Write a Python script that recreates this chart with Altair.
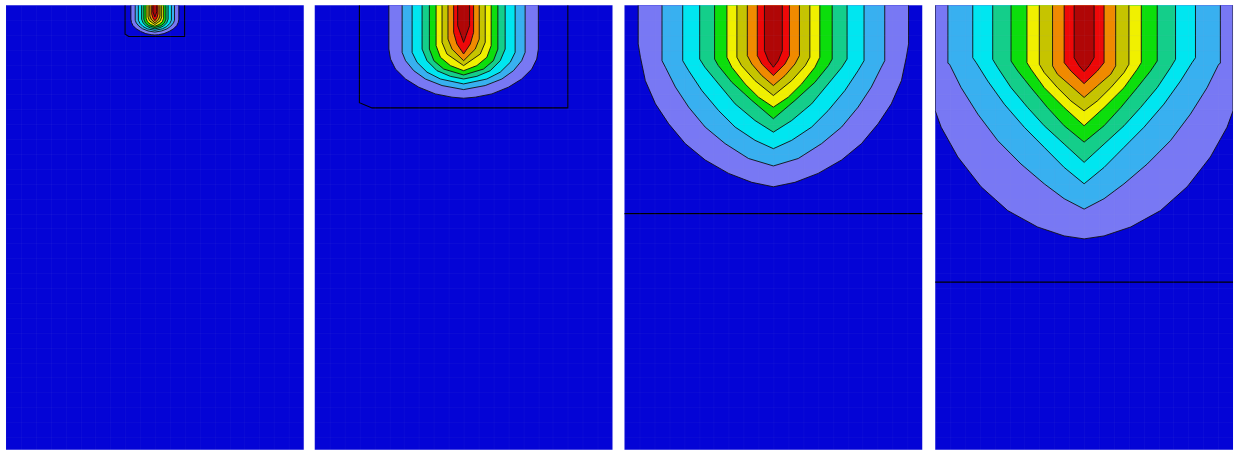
import altair as alt
import pandas as pd

# Colour of the untouched material and of the ten contour bands, outermost band first
BACKGROUND_BLUE = "#0404D6"
LEVEL_COLORS = ["#7878F4", "#38B0F0", "#00E6F0", "#14CE8A", "#0CDE0C",
                "#F0F000", "#C6C400", "#F08A00", "#EE0808", "#B00606"]
LEVELS = list(range(1, 11))

# Contour boundaries per panel: for each band, (depth, half-width) pairs
# running from the top surface down to the tip on the centre line.
P1_BOUNDS = [
    [(0, 1.61), (0.94, 1.61), (1.16, 1.57), (1.37, 1.47), (1.59, 1.25), (1.76, 0.96), (1.91, 0.61), (1.98, 0.25), (2.0, 0)],
    [(0, 1.32), (1.01, 1.32), (1.19, 1.25), (1.41, 1.07), (1.59, 0.82), (1.73, 0.46), (1.81, 0)],
    [(0, 1.11), (1.01, 1.11), (1.23, 1.0), (1.44, 0.79), (1.59, 0.5), (1.69, 0)],
    [(0, 0.89), (0.94, 0.89), (1.19, 0.79), (1.41, 0.57), (1.53, 0.28), (1.59, 0)],
    [(0, 0.74), (0.94, 0.74), (1.19, 0.64), (1.37, 0.43), (1.5, 0)],
    [(0, 0.59), (0.87, 0.59), (1.12, 0.5), (1.3, 0.28), (1.41, 0)],
    [(0, 0.46), (0.8, 0.46), (1.05, 0.36), (1.3, 0)],
    [(0, 0.34), (0.73, 0.34), (0.94, 0.25), (1.19, 0)],
    [(0, 0.21), (0.59, 0.21), (0.84, 0.14), (1.05, 0)],
    [(0, 0.13), (0.44, 0.13), (0.8, 0)],
]
P2_BOUNDS = [
    [(0, 5.02), (2.95, 5.02), (3.62, 4.91), (4.29, 4.58), (4.96, 3.9), (5.51, 3.01), (5.96, 1.9), (6.18, 0.78), (6.25, 0)],
    [(0, 4.13), (3.17, 4.13), (3.73, 3.9), (4.4, 3.35), (4.96, 2.57), (5.4, 1.45), (5.67, 0)],
    [(0, 3.46), (3.17, 3.46), (3.84, 3.13), (4.5, 2.46), (4.96, 1.56), (5.29, 0)],
    [(0, 2.79), (2.95, 2.79), (3.73, 2.46), (4.4, 1.79), (4.78, 0.89), (4.96, 0)],
    [(0, 2.3), (2.95, 2.3), (3.73, 2.0), (4.29, 1.34), (4.69, 0)],
    [(0, 1.85), (2.72, 1.85), (3.5, 1.56), (4.06, 0.89), (4.4, 0)],
    [(0, 1.45), (2.5, 1.45), (3.28, 1.12), (4.06, 0)],
    [(0, 1.05), (2.28, 1.05), (2.95, 0.78), (3.73, 0)],
    [(0, 0.67), (1.83, 0.67), (2.61, 0.45), (3.28, 0)],
    [(0, 0.4), (1.38, 0.4), (2.5, 0)],
]
P3_BOUNDS = [
    [(0, 9.08), (2.6, 9.08), (3.5, 8.93), (5.07, 8.6), (6.63, 7.92), (7.97, 7.03), (9.3, 5.92), (10.4, 4.58), (11.3, 3.01), (11.9, 1.45), (12.2, 0)],
    [(0, 7.48), (3.73, 7.48), (4.17, 7.25), (5.5, 6.58), (6.85, 5.69), (8.19, 4.58), (9.3, 3.24), (10.3, 1.67), (10.8, 0)],
    [(0, 6.09), (3.73, 6.09), (4.4, 5.69), (5.74, 4.8), (7.08, 3.68), (8.19, 2.57), (9.08, 1.23), (9.64, 0)],
    [(0, 4.95), (3.62, 4.95), (4.17, 4.6), (5.29, 3.68), (6.63, 2.57), (7.75, 1.23), (8.53, 0)],
    [(0, 3.95), (3.62, 3.95), (4.06, 3.7), (5.18, 2.79), (6.4, 1.45), (7.63, 0)],
    [(0, 3.12), (3.5, 3.12), (4.17, 2.79), (5.29, 1.9), (6.18, 1.0), (6.85, 0)],
    [(0, 2.45), (3.5, 2.45), (4.06, 2.14), (5.07, 1.23), (6.07, 0)],
    [(0, 1.75), (3.39, 1.75), (3.95, 1.45), (4.73, 0.78), (5.4, 0)],
    [(0, 1.08), (3.39, 1.08), (3.95, 0.78), (4.73, 0)],
    [(0, 0.6), (3.06, 0.6), (3.73, 0.33), (4.17, 0)],
]
P4_BOUNDS = [
    [(0, 10.0), (7.1, 10.0), (8.2, 9.6), (10.2, 8.48), (12.2, 6.92), (13.8, 5.13), (14.9, 3.13), (15.5, 1.34), (15.7, 0)],
    [(0, 9.15), (3.9, 9.15), (3.97, 9.04), (5.54, 8.26), (7.32, 7.14), (9.1, 5.8), (10.67, 4.24), (12.0, 2.68), (13.0, 1.34), (13.7, 0)],
    [(0, 7.48), (3.53, 7.48), (3.86, 7.25), (5.1, 6.47), (6.65, 5.36), (8.2, 4.02), (9.55, 2.68), (10.9, 1.34), (12.0, 0)],
    [(0, 6.14), (3.64, 6.14), (4.2, 5.8), (5.54, 4.91), (6.88, 3.79), (8.1, 2.68), (9.33, 1.34), (10.56, 0)],
    [(0, 4.91), (3.75, 4.91), (4.42, 4.46), (5.54, 3.57), (6.88, 2.46), (8.1, 1.34), (9.2, 0)],
    [(0, 3.84), (3.86, 3.84), (4.3, 3.57), (5.54, 2.68), (6.88, 1.34), (8.1, 0)],
    [(0, 3.01), (3.97, 3.01), (4.53, 2.68), (5.54, 1.79), (6.43, 0.89), (7.1, 0)],
    [(0, 2.12), (4.08, 2.12), (4.64, 1.79), (5.42, 0.89), (6.2, 0)],
    [(0, 1.34), (3.86, 1.34), (4.42, 0.89), (5.27, 0)],
    [(0, 0.67), (3.53, 0.67), (4.08, 0.33), (4.46, 0)],
]

# Refined-mesh box outlines as (x, depth) paths, and depth of the horizontal mesh seam
P1_BOX = [(-2.0, 0), (-2.0, 1.95), (-1.75, 2.1), (2.0, 2.1), (2.0, 0)]
P2_BOX = [(-7.0, 0), (-7.0, 6.55), (-6.15, 6.9), (7.0, 6.9), (7.0, 0)]
P3_SEAM = 14.0
P4_SEAM = 18.6

HALF_WIDTH = 10.0
DEPTH = 29.87
PANEL_W = 298
PANEL_H = 445

xs = alt.Scale(domain=[-HALF_WIDTH, HALF_WIDTH], nice=False, zero=False)
ys = alt.Scale(domain=[0, DEPTH], reverse=True, nice=False, zero=False)
mesh_axis = dict(title=None, labels=False, ticks=False, domain=False, grid=True,
                 gridColor="#a0a0e0", gridOpacity=0.06, gridWidth=1, zindex=1)
x_axis = alt.Axis(values=[v * 1.0 for v in range(-10, 11)], **mesh_axis)
y_axis = alt.Axis(values=[v * 1.0 for v in range(0, 30)], **mesh_axis)
band_color = alt.Color("level:O", scale=alt.Scale(domain=LEVELS, range=LEVEL_COLORS), legend=None)


def panel(bounds, box=None, seam=None):
    area_rows, line_rows = [], []
    for level, pts in zip(LEVELS, bounds):
        for d, w in pts:
            area_rows.append({"level": level, "depth": d, "left": -w, "right": w})
        path = [(-w, d) for d, w in pts] + [(w, d) for d, w in reversed(pts[:-1])]
        for i, (x, d) in enumerate(path):
            line_rows.append({"level": level, "seq": i, "x": x, "depth": d})

    bands = alt.Chart(pd.DataFrame(area_rows)).mark_area(
        orient="horizontal", clip=True
    ).encode(
        y=alt.Y("depth:Q", scale=ys, axis=y_axis),
        x=alt.X("left:Q", scale=xs, axis=x_axis, stack=None),
        x2="right:Q",
        color=band_color,
    )
    edges = alt.Chart(pd.DataFrame(line_rows)).mark_line(
        color="#101010", strokeWidth=0.9, clip=True
    ).encode(
        x=alt.X("x:Q", scale=xs, axis=x_axis),
        y=alt.Y("depth:Q", scale=ys, axis=y_axis),
        detail="level:N",
        order="seq:Q",
    )
    layers = [bands, edges]
    if box is not None:
        box_df = pd.DataFrame([{"seq": i, "x": x, "depth": d} for i, (x, d) in enumerate(box)])
        layers.append(alt.Chart(box_df).mark_line(color="#000000", strokeWidth=1.1, clip=True).encode(
            x=alt.X("x:Q", scale=xs, axis=x_axis),
            y=alt.Y("depth:Q", scale=ys, axis=y_axis),
            order="seq:Q",
        ))
    if seam is not None:
        layers.append(alt.Chart(pd.DataFrame({"depth": [seam]})).mark_rule(
            color="#000000", strokeWidth=1.2
        ).encode(y=alt.Y("depth:Q", scale=ys, axis=y_axis)))
    return alt.layer(*layers).properties(width=PANEL_W, height=PANEL_H)


chart = alt.hconcat(
    panel(P1_BOUNDS, box=P1_BOX),
    panel(P2_BOUNDS, box=P2_BOX),
    panel(P3_BOUNDS, seam=P3_SEAM),
    panel(P4_BOUNDS, seam=P4_SEAM),
    spacing=11,
).properties(
    padding={"left": 6, "top": 5, "right": 0, "bottom": 0},
    background="white",
).configure_view(stroke=None, fill=BACKGROUND_BLUE)

chart.save("out.html", embed_options={"renderer": "svg", "actions": False})
